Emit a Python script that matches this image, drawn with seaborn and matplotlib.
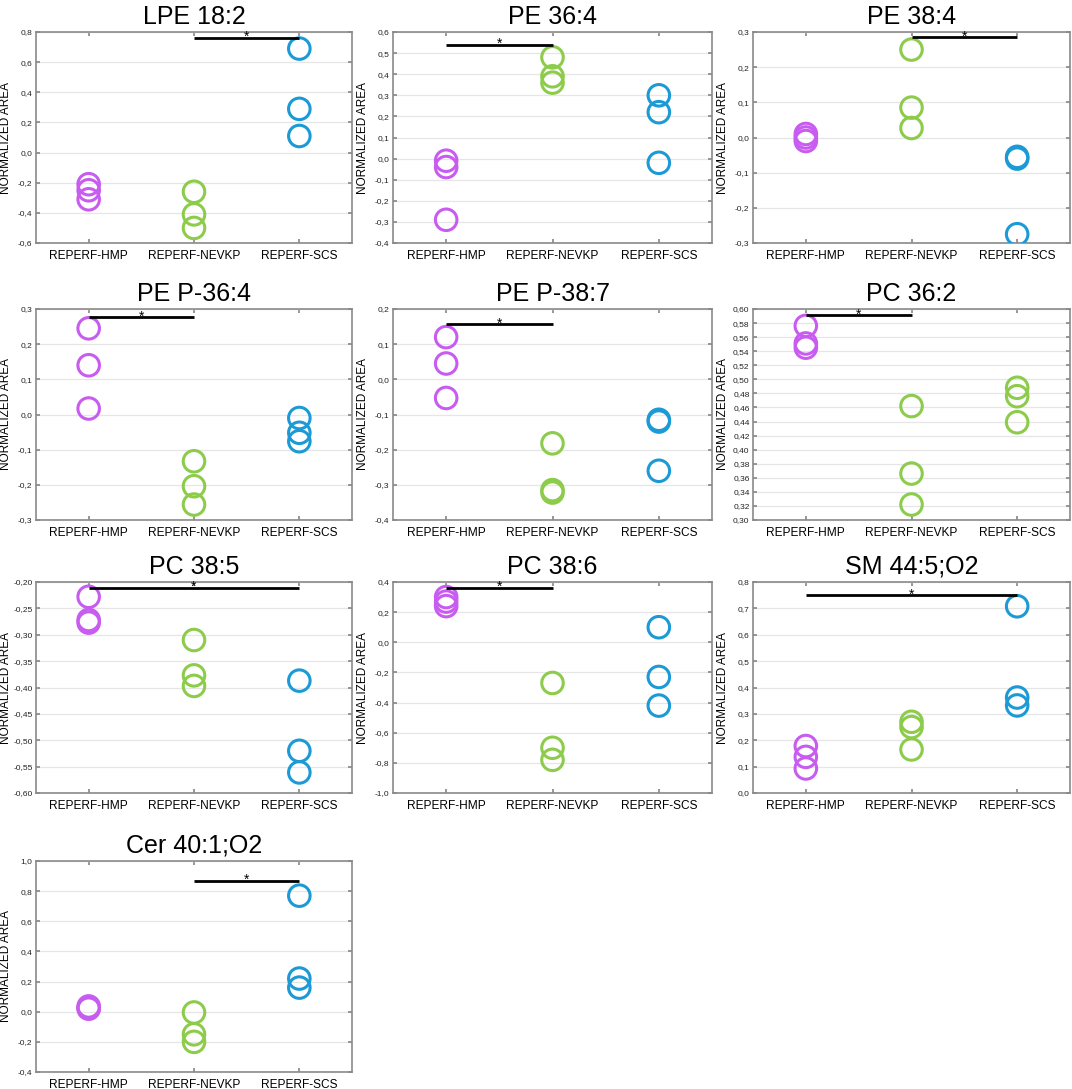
#!/usr/bin/env python3
# -*- coding: utf-8 -*-

# import modules
import pandas as pd
import matplotlib
matplotlib.use('Agg')
import matplotlib.pyplot as plt
from matplotlib.ticker import MultipleLocator, FuncFormatter
import seaborn as sns
sns.set_theme(style="white")
plt.rcParams['font.family'] = ['Liberation Sans', 'DejaVu Sans']

# groups and colours
groups = ['REPERF-HMP', 'REPERF-NEVKP', 'REPERF-SCS']
magenta = '#c95cf0'
green = '#8dcc4b'
blue = '#1c9ad6'

# values (three replicates per group)
titles = ['LPE 18:2', 'PE 36:4', 'PE 38:4',
          'PE P-36:4', 'PE P-38:7', 'PC 36:2',
          'PC 38:5', 'PC 38:6', 'SM 44:5;O2',
          'Cer 40:1;O2']

hmp = [[-0.21, -0.25, -0.31],
       [-0.01, -0.04, -0.29],
       [0.010, 0.000, -0.010],
       [0.245, 0.140, 0.017],
       [0.120, 0.045, -0.053],
       [0.576, 0.551, 0.545],
       [-0.228, -0.272, -0.277],
       [0.30, 0.27, 0.24],
       [0.178, 0.137, 0.093],
       [0.035, 0.025, 0.020]]

nevkp = [[-0.26, -0.41, -0.50],
         [0.48, 0.39, 0.36],
         [0.250, 0.085, 0.027],
         [-0.133, -0.204, -0.256],
         [-0.182, -0.315, -0.322],
         [0.462, 0.366, 0.322],
         [-0.310, -0.377, -0.397],
         [-0.27, -0.70, -0.78],
         [0.270, 0.250, 0.165],
         [-0.005, -0.150, -0.200]]

scs = [[0.69, 0.29, 0.11],
       [0.30, 0.22, -0.02],
       [-0.055, -0.060, -0.275],
       [-0.010, -0.052, -0.076],
       [-0.115, -0.120, -0.260],
       [0.488, 0.476, 0.439],
       [-0.387, -0.520, -0.561],
       [0.10, -0.23, -0.42],
       [0.708, 0.362, 0.332],
       [0.770, 0.220, 0.160]]

# y axis range, tick step and decimals
ylims = [(-0.6, 0.8), (-0.4, 0.6), (-0.3, 0.3),
         (-0.3, 0.3), (-0.4, 0.2), (0.30, 0.60),
         (-0.60, -0.20), (-1.0, 0.4), (0.0, 0.8),
         (-0.4, 1.0)]
ysteps = [0.2, 0.1, 0.1, 0.1, 0.1, 0.02, 0.05, 0.2, 0.1, 0.2]
ydec = [1, 1, 1, 1, 1, 2, 2, 1, 1, 1]

# significance bars: (from group, to group, height)
sig = [(1, 2, 0.76), (0, 1, 0.54), (1, 2, 0.285),
       (0, 1, 0.277), (0, 1, 0.157), (0, 1, 0.591),
       (0, 2, -0.211), (0, 1, 0.36), (0, 2, 0.75),
       (1, 2, 0.87)]

# the SCS group of PC 36:2 is drawn green in the original
palettes = [[magenta, green, blue]] * 10
palettes[5] = [magenta, green, green]

# figure layout in pixels
W, H = 1072, 1089
fig = plt.figure(figsize=(W / 100, H / 100), dpi=100)
col_left = [36, 393, 753]
col_width = [316, 319, 317]
row_top = [32, 309, 582, 861]
row_height = 211

for i, title in enumerate(titles):
    r, c = divmod(i, 3)
    rect = [col_left[c] / W, 1 - (row_top[r] + row_height) / H,
            col_width[c] / W, row_height / H]
    ax = fig.add_axes(rect)

    df = pd.DataFrame({
        'group': [g for g in groups for _ in range(3)],
        'value': hmp[i] + nevkp[i] + scs[i],
    })
    sns.stripplot(data=df, x='group', y='value', hue='group',
                  order=groups, hue_order=groups, palette=palettes[i],
                  jitter=False, size=15.5, legend=False, ax=ax, zorder=3)
    # turn the filled dots into open rings
    for coll in ax.collections:
        fc = coll.get_facecolors()
        coll.set_edgecolors(fc)
        coll.set_facecolors('none')
        coll.set_linewidth(2.2)

    ax.set_xlim(-0.5, 2.5)
    ax.set_ylim(*ylims[i])
    ax.yaxis.set_major_locator(MultipleLocator(ysteps[i]))
    d = ydec[i]
    ax.yaxis.set_major_formatter(
        FuncFormatter(lambda v, p, d=d: f'{v:.{d}f}'.replace('.', ',')))
    ax.grid(axis='y', color='#e6e6e6', linewidth=0.9, zorder=0)
    ax.set_axisbelow(True)
    for s in ax.spines.values():
        s.set_color('#8a8a8a')
        s.set_linewidth(1.2)
    ax.tick_params(axis='y', labelsize=6, direction='in', length=3,
                   color='#8a8a8a', labelcolor='#222222',
                   right=True, left=True, pad=2.5)
    ax.tick_params(axis='x', labelsize=8.6, direction='in', length=3,
                   color='#8a8a8a', labelcolor='black',
                   top=True, bottom=True, pad=5)
    ax.set_xlabel('')
    ax.set_ylabel('NORMALIZED AREA', fontsize=8.5, color='black')
    ax.yaxis.set_label_coords(-24 / col_width[c], 0.5)
    ax.set_title(title, fontsize=18, pad=6, color='black')

    # significance bar with asterisk
    a, b, h = sig[i]
    ax.plot([a, b], [h, h], color='black', linewidth=2, zorder=4,
            solid_capstyle='butt')
    ax.annotate('*', xy=((a + b) / 2, h), xytext=(0, -4.5),
                textcoords='offset points', ha='center', va='bottom',
                fontsize=10, color='black')

fig.savefig('out.png', dpi=100)
